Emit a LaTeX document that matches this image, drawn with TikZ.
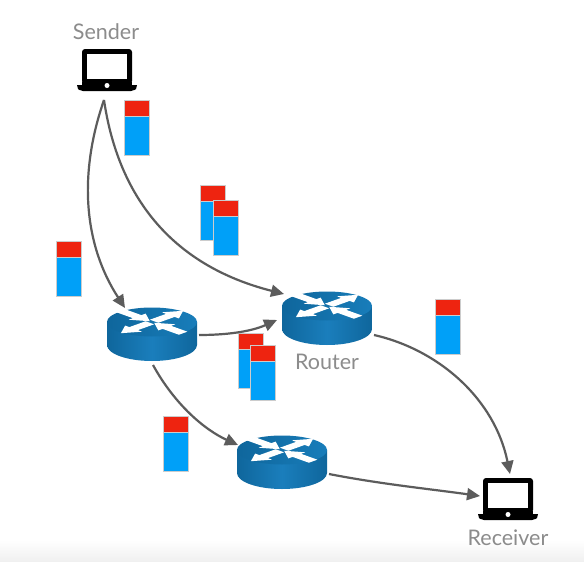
\documentclass[tikz,border=0pt]{standalone}
\usepackage{fontspec}
\setmainfont{Lato}
\usetikzlibrary{arrows.meta,shapes.geometric}
\definecolor{lbl}{HTML}{8C8C8C}
\definecolor{lnk}{HTML}{5C5C5C}
\definecolor{pred}{HTML}{EE2410}
\definecolor{pblue}{HTML}{00A0F8}
\definecolor{rdark}{HTML}{0F669C}
\definecolor{rmid}{HTML}{1A7EBC}
\definecolor{rlight}{HTML}{187DBA}
\tikzset{
  x=1pt,y=-1pt,
  link/.style={draw=lnk,line width=2.2pt,-{Triangle[length=13pt,width=12pt]}},
  anchorbox/.style={inner sep=0pt,outer sep=0pt,minimum width=#1},
  tag/.style={text=lbl,font=\fontsize{21.5}{23}\selectfont,inner sep=0pt},
  pktred/.style={fill=pred,draw=black!20,line width=0.4pt},
  pktblue/.style={fill=pblue,draw=black!20,line width=0.4pt},
  rarrow/.style={fill=white,draw=none},
  pics/laptop/.style={code={
    \fill[black,rounded corners=3pt] (-25,-19) rectangle (25,16);
    \fill[white] (-20,-14) rectangle (20,11);
    \fill[black] (-30,17) -- (30,17) -- (29,21) [rounded corners=2pt] -- (26,23) -- (-26,23) [sharp corners] -- (-29,21) -- cycle;
    \fill[black] (-25,14) rectangle (25,18);
    \fill[white] (0,17.5) circle (2.5);
  }},
  pics/routerpic/.style={code={
    \path[left color=rdark,right color=rdark,middle color=rmid]
      (-45,0) -- (-45,23) arc[start angle=180,end angle=0,x radius=45,y radius=16] -- (45,0) -- cycle;
    \path[left color=rdark,right color=rlight] (0,0) ellipse[x radius=45,y radius=14.5];
    \begin{scope}[yscale=0.36]
      \foreach \a in {45,225} {
        \fill[rarrow,rotate=\a] (3,-6) -- (26,-6) -- (26,-12) -- (44,0) -- (26,12) -- (26,6) -- (3,6) -- cycle;
      }
      \foreach \a in {135,315} {
        \fill[rarrow,rotate=\a] (44,-6) -- (21,-6) -- (21,-12) -- (3,0) -- (21,12) -- (21,6) -- (44,6) -- cycle;
      }
    \end{scope}
  }},
  pics/packet/.style={code={
    \fill[pktblue] (0,16) rectangle (25,55);
    \fill[pktred] (0,0) rectangle (25,16);
  }}
}
\begin{document}
\begin{tikzpicture}
\useasboundingbox (0,0) rectangle (584,562);
\fill[white] (0,0) rectangle (584,562);
\fill[top color=white,bottom color=black!6] (0,540) rectangle (584,562);

% packets
\pic at (124,100) {packet};
\pic at (200,185) {packet};
\pic at (213,200) {packet};
\pic at (56,241) {packet};
\pic at (435,299) {packet};
\pic at (238,333) {packet};
\pic at (250,345) {packet};
\pic at (163,416) {packet};

% devices
\pic at (107,68) {laptop};
\pic at (508,497) {laptop};
\pic at (152,322) {routerpic};
\pic at (327,306) {routerpic};
\pic at (282,450) {routerpic};

% invisible nodes that the connectors attach to
\node[anchorbox=60pt,minimum height=44pt] (sender) at (107,70) {};
\node[anchorbox=60pt,minimum height=44pt] (receiver) at (508,499) {};
\node[anchorbox=90pt,minimum height=53pt] (routera) at (152,334) {};
\node[anchorbox=90pt,minimum height=53pt] (routerb) at (327,318) {};
\node[anchorbox=90pt,minimum height=53pt] (routerc) at (282,462) {};

% labels
\node[tag] (sendertag) at (106,32) {Sender};
\node[tag] (routertag) at (327,362) {Router};
\node[tag] (receivertag) at (508,538) {Receiver};

% connectors
\draw[link] ([shift={(-3,30)}]sender.center) .. controls (78,175) and (84,245) .. ([shift={(-27,-26)}]routera.center);
\draw[link] ([shift={(-3,30)}]sender.center) .. controls (118,195) and (170,265) .. ([shift={(-43,-24)}]routerb.center);
\draw[link] ([shift={(47,1)}]routera.center) .. controls (225,335) and (250,332) .. ([shift={(-50,2)}]routerb.center);
\draw[link] ([shift={(1,31)}]routera.center) .. controls (175,405) and (205,430) .. ([shift={(-44,-17)}]routerc.center);
\draw[link] ([shift={(47,17)}]routerb.center) .. controls (440,350) and (495,400) .. ([shift={(2,-25)}]receiver.center);
\draw[link] ([shift={(47,12)}]routerc.center) .. controls (380,484) and (430,489) .. ([shift={(-28,-3)}]receiver.center);
\end{tikzpicture}
\end{document}
